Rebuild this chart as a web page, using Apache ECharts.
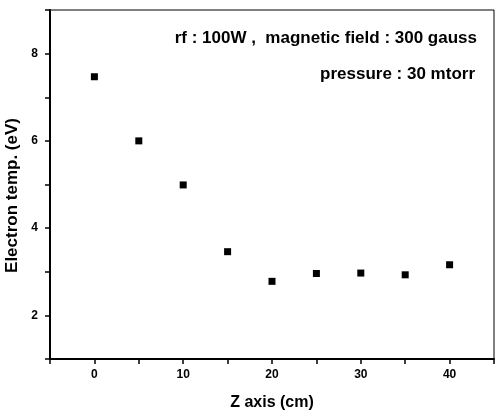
<!DOCTYPE html>
<html>
<head>
<meta charset="utf-8">
<script src="https://cdn.jsdelivr.net/npm/echarts@6/dist/echarts.min.js"></script>
<style>html,body{margin:0;padding:0;background:#fff}#c{width:495px;height:414px}</style>
</head>
<body>
<div id="c"></div>
<script>
const zPositions = [0, 5, 10, 15, 20, 25, 30, 35, 40];
const electronTemp = [7.47, 6.0, 4.99, 3.46, 2.78, 2.96, 2.97, 2.93, 3.16];
const xTicks = [0, 10, 20, 30, 40];
const yTicks = [2, 4, 6, 8];
const annotation1 = 'rf : 100W ,  magnetic field : 300 gauss';
const annotation2 = 'pressure : 30 mtorr';

const chart = echarts.init(document.getElementById('c'), null, {renderer: 'canvas'});
const font = 'Liberation Sans, Arial, sans-serif';
chart.setOption({
  animation: false,
  backgroundColor: '#fff',
  grid: {left: 50, right: 1, top: 10, bottom: 55, show: true, borderColor: '#000', borderWidth: 1,
         containLabel: false, outerBoundsMode: 'none'},
  xAxis: {
    type: 'value', min: -5, max: 45, interval: 5,
    name: 'Z axis (cm)', nameLocation: 'middle', nameGap: 36,
    nameTextStyle: {fontFamily: font, fontWeight: 'bold', fontSize: 16, color: '#000'},
    axisLine: {onZero: false, lineStyle: {color: '#000', width: 2}},
    axisTick: {show: true, length: 5, inside: false, lineStyle: {color: '#000', width: 1.5}},
    axisLabel: {
      margin: 10, fontFamily: font, fontWeight: 'bold', fontSize: 12, color: '#000',
      formatter: v => xTicks.includes(v) ? String(v) : ''
    },
    splitLine: {show: false}
  },
  yAxis: {
    type: 'value', min: 1, max: 9, interval: 1,
    name: 'Electron temp. (eV)', nameLocation: 'middle', nameGap: 27,
    nameTextStyle: {fontFamily: font, fontWeight: 'bold', fontSize: 17, color: '#000', padding: [0, 22, 0, 0]},
    axisLine: {onZero: false, lineStyle: {color: '#000', width: 2}},
    axisTick: {show: true, length: 5, inside: false, lineStyle: {color: '#000', width: 1.5}},
    axisLabel: {
      margin: 12, fontFamily: font, fontWeight: 'bold', fontSize: 12, color: '#000',
      formatter: v => yTicks.includes(v) ? String(v) : ''
    },
    splitLine: {show: false}
  },
  series: [{
    type: 'scatter',
    symbol: 'rect', symbolSize: 7,
    itemStyle: {color: '#000', opacity: 1},
    data: zPositions.map((z, i) => [z, electronTemp[i]])
  }],
  graphic: [
    {type: 'text', right: 18, top: 30, style: {text: annotation1, font: 'bold 17px ' + font, fill: '#000', textAlign: 'right'}},
    {type: 'text', right: 20, top: 66, style: {text: annotation2, font: 'bold 17px ' + font, fill: '#000', textAlign: 'right'}}
  ]
});
</script>
</body>
</html>
